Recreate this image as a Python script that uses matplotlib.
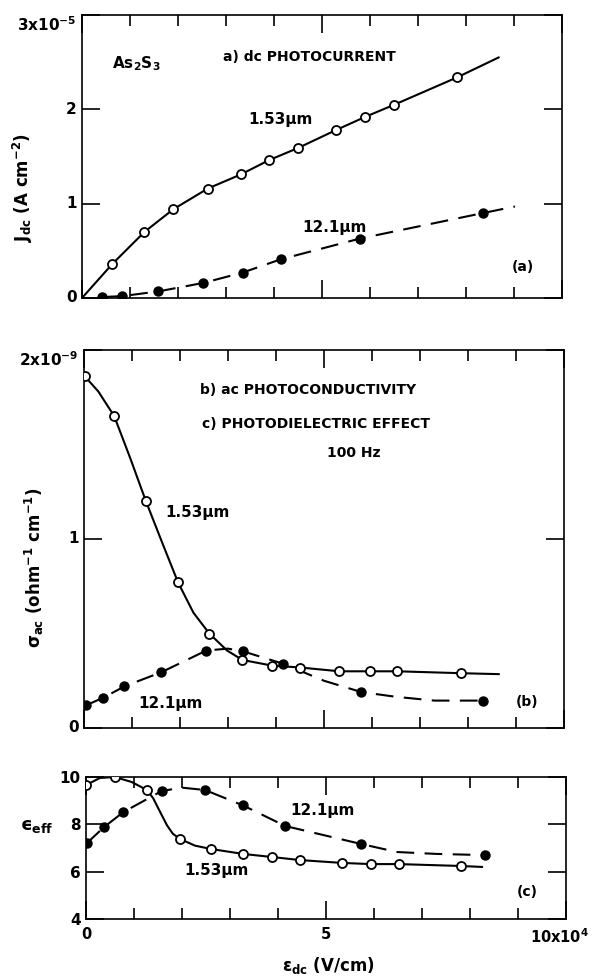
import numpy as np
import matplotlib.pyplot as plt
from matplotlib.ticker import MultipleLocator, FixedLocator
from matplotlib.transforms import ScaledTranslation

plt.rcParams['font.family'] = ['DejaVu Sans']
plt.rcParams['font.weight'] = 'bold'
plt.rcParams['mathtext.fontset'] = 'dejavusans'
plt.rcParams['mathtext.default'] = 'bf'

# x axis: E_dc in units of 1e4 V/cm

# (a) dc photocurrent, units of 1e-5 A cm^-2
a_x_153 = [0.63, 1.30, 1.90, 2.62, 3.31, 3.89, 4.50, 5.29, 5.90, 6.51, 7.82]
a_y_153 = [0.36, 0.70, 0.94, 1.16, 1.31, 1.46, 1.59, 1.78, 1.92, 2.05, 2.34]
a_cx_153 = [0.0] + a_x_153 + [8.68]
a_cy_153 = [0.0] + a_y_153 + [2.55]

a_x_121 = [0.42, 0.84, 1.59, 2.53, 3.35, 4.14, 5.79, 8.35]
a_y_121 = [0.01, 0.02, 0.07, 0.16, 0.27, 0.41, 0.63, 0.90]
a_cx_121 = a_x_121 + [9.02]
a_cy_121 = a_y_121 + [0.97]

# (b) ac photoconductivity, units of 1e-9 ohm^-1 cm^-1
b_x_153 = [0.02, 0.63, 1.29, 1.96, 2.61, 3.30, 3.92, 4.51, 5.32, 5.95, 6.53, 7.85]
b_y_153 = [1.86, 1.65, 1.20, 0.77, 0.50, 0.36, 0.33, 0.32, 0.30, 0.30, 0.30, 0.29]
b_cx_153 = [0.02, 0.30, 0.63, 0.96, 1.29, 1.63, 1.96, 2.28, 2.61, 2.98, 3.30,
            3.92, 4.51, 5.32, 5.95, 6.53, 7.85, 8.64]
b_cy_153 = [1.86, 1.78, 1.65, 1.43, 1.20, 0.98, 0.77, 0.61, 0.50, 0.41, 0.36,
            0.33, 0.32, 0.30, 0.30, 0.30, 0.29, 0.285]

b_x_121 = [0.04, 0.40, 0.84, 1.61, 2.55, 3.32, 4.15, 5.78, 8.31]
b_y_121 = [0.12, 0.16, 0.22, 0.295, 0.41, 0.405, 0.34, 0.19, 0.145]
b_cx_121 = [0.04, 0.40, 0.84, 1.61, 2.55, 3.0, 3.32, 4.15, 5.0, 5.78, 6.5, 7.3, 8.31]
b_cy_121 = [0.12, 0.16, 0.22, 0.295, 0.41, 0.42, 0.405, 0.34, 0.25, 0.19, 0.165, 0.145, 0.145]

# (c) photodielectric effect, eps_eff
c_x_153 = [0.0, 0.60, 1.27, 1.96, 2.60, 3.27, 3.87, 4.46, 5.33, 5.94, 6.52, 7.81]
c_y_153 = [9.66, 10.0, 9.45, 7.38, 6.96, 6.75, 6.62, 6.49, 6.37, 6.32, 6.32, 6.24]
c_cx_153 = [0.0, 0.29, 0.60, 0.95, 1.27, 1.40, 1.55, 1.69, 1.81, 1.96, 2.27, 2.60, 3.27,
            3.87, 4.46, 5.33, 5.94, 6.52, 7.81, 8.25]
c_cy_153 = [9.66, 9.96, 10.0, 9.79, 9.45, 9.10, 8.50, 7.95, 7.60, 7.38, 7.10, 6.96, 6.75,
            6.62, 6.49, 6.37, 6.32, 6.32, 6.24, 6.20]

c_x_121 = [0.02, 0.38, 0.78, 1.58, 2.48, 3.27, 4.15, 5.73, 8.31]
c_y_121 = [7.21, 7.89, 8.52, 9.41, 9.45, 8.80, 7.93, 7.17, 6.70]
c_cx_121 = [0.02, 0.38, 0.78, 1.58, 2.0, 2.48, 3.27, 4.15, 5.73, 6.48, 7.3, 8.31]
c_cy_121 = [7.21, 7.89, 8.52, 9.41, 9.55, 9.45, 8.80, 7.93, 7.17, 6.83, 6.75, 6.70]

W, H = 594, 977
fig = plt.figure(figsize=(W / 100, H / 100), dpi=100)


def box(x0, y0, x1, y1):
    return [x0 / W, 1 - y1 / H, (x1 - x0) / W, (y1 - y0) / H]


axa = fig.add_axes(box(82, 15, 562, 298))
axb = fig.add_axes(box(84, 350, 564, 728))
axc = fig.add_axes(box(86, 777, 566, 919))

DASH = (8.5, 5)


def draw(ax, cx1, cy1, x1, y1, cx2, cy2, x2, y2):
    ax.plot(cx1, cy1, color='black', lw=1.5, zorder=2)
    ax.plot(cx2, cy2, color='black', lw=1.5, dashes=DASH, zorder=2)
    ax.plot(x2, y2, 'o', ms=6.5, mfc='black', mec='black', zorder=3)
    ax.plot(x1, y1, 'o', ms=6.5, mfc='white', mec='black', mew=1.3, zorder=4)


draw(axa, a_cx_153, a_cy_153, a_x_153, a_y_153, a_cx_121, a_cy_121, a_x_121, a_y_121)
draw(axb, b_cx_153, b_cy_153, b_x_153, b_y_153, b_cx_121, b_cy_121, b_x_121, b_y_121)
draw(axc, c_cx_153, c_cy_153, c_x_153, c_y_153, c_cx_121, c_cy_121, c_x_121, c_y_121)

axa.set_ylim(0, 3)
axb.set_ylim(0, 2)
axc.set_ylim(4, 10)

for ax in (axa, axb, axc):
    ax.set_xlim(0, 10)
    for s in ax.spines.values():
        s.set_linewidth(1.2)
    ax.xaxis.set_major_locator(FixedLocator([0, 5, 10]))
    ax.xaxis.set_minor_locator(MultipleLocator(1))
    ax.tick_params(which='both', direction='in', top=True, right=True,
                   labelsize=11, width=1.2, pad=4)
    ax.tick_params(axis='x', which='major', length=13)
    ax.tick_params(axis='x', which='minor', length=8)
    ax.tick_params(axis='y', which='major', length=13)
    ax.tick_params(axis='x', labelbottom=False)

axa.set_yticks([0, 1, 2, 3])
axa.set_yticklabels(['0', '1', '2', '3x10$^{-5}$'])
axb.set_yticks([0, 1, 2])
axb.set_yticklabels(['0', '1', '2x10$^{-9}$'])
axc.set_yticks([4, 6, 8, 10])
axc.set_yticklabels(['4', '6', '8', '10'])
for lab in axa.get_yticklabels() + axb.get_yticklabels():
    lab.set_verticalalignment('center')
axa.get_yticklabels()[-1].set_verticalalignment('top')
axb.get_yticklabels()[-1].set_verticalalignment('top')

axc.tick_params(axis='x', labelbottom=True, pad=6, labelsize=10.5)
axc.set_xticklabels(['0', '5', '10x10$^4$'])
last = axc.get_xticklabels()[-1]
last.set_transform(last.get_transform() + ScaledTranslation(-5 / 72, 0, fig.dpi_scale_trans))

# annotations
kw = dict(fontsize=10, fontweight='bold', va='center')
axa.text(0.63, 2.48, 'As$_2$S$_3$', fontsize=11, fontweight='bold', va='center')
axa.text(2.94, 2.55, 'a) dc PHOTOCURRENT', **kw)
axa.text(3.46, 1.89, '1.53μm', fontsize=11, fontweight='bold', va='center')
axa.text(4.6, 0.75, '12.1μm', fontsize=11, fontweight='bold', va='center')
axa.text(8.96, 0.33, '(a)', **kw)

axb.text(2.42, 1.79, 'b) ac PHOTOCONDUCTIVITY', **kw)
axb.text(2.46, 1.61, 'c) PHOTODIELECTRIC EFFECT', **kw)
axb.text(5.62, 1.455, '100 Hz', fontsize=10, fontweight='bold', va='center', ha='center')
axb.text(1.69, 1.14, '1.53μm', fontsize=11, fontweight='bold', va='center')
axb.text(1.13, 0.13, '12.1μm', fontsize=11, fontweight='bold', va='center')
axb.text(9.0, 0.14, '(b)', **kw)

axc.text(4.25, 8.6, '12.1μm', fontsize=11, fontweight='bold', va='center')
axc.text(2.04, 6.07, '1.53μm', fontsize=11, fontweight='bold', va='center')
axc.text(8.98, 5.14, '(c)', **kw)

fig.text(23 / W, 1 - 188 / H, 'J$_{dc}$ (A cm$^{-2}$)', rotation=90,
         ha='center', va='center', fontsize=12, fontweight='bold')
fig.text(34 / W, 1 - 568 / H, 'σ$_{ac}$ (ohm$^{-1}$ cm$^{-1}$)', rotation=90,
         ha='center', va='center', fontsize=12, fontweight='bold')
fig.text(37 / W, 1 - 826 / H, 'ϵ$_{eff}$', ha='center', va='center',
         fontsize=13, fontweight='bold')
fig.text(328 / W, 1 - 965 / H, 'ε$_{dc}$ (V/cm)', ha='center', va='center',
         fontsize=12, fontweight='bold')

fig.savefig('out.png', dpi=100)
